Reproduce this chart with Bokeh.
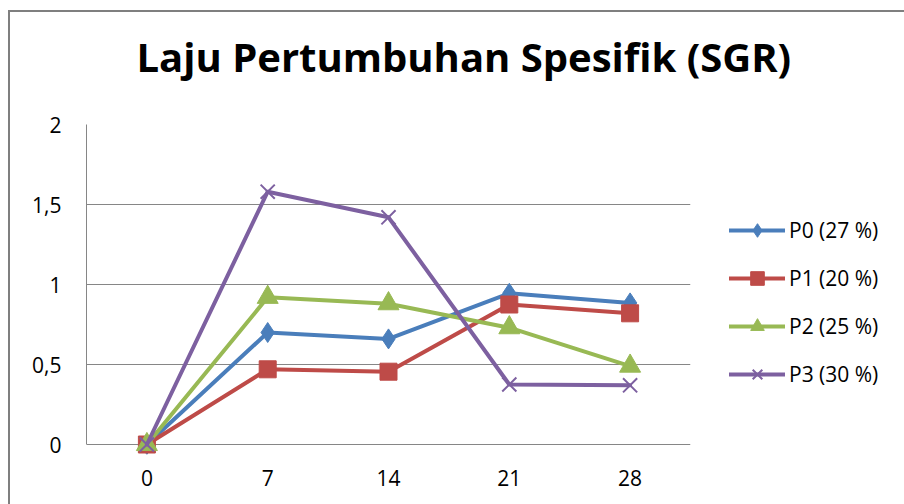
from bokeh.plotting import figure
from bokeh.models import (FactorRange, Range1d, FixedTicker, CustomJSTickFormatter,
                          Legend, LegendItem, Title)
from bokeh.embed import file_html
from bokeh.resources import INLINE

# ---- data ----
days = ["0", "7", "14", "21", "28"]
p0_vals = [0, 0.70, 0.66, 0.945, 0.885]
p1_vals = [0, 0.47, 0.455, 0.875, 0.82]
p2_vals = [0, 0.92, 0.88, 0.73, 0.49]
p3_vals = [0, 1.58, 1.42, 0.375, 0.37]
series_labels = ["P0 (27 %)", "P1 (20 %)", "P2 (25 %)", "P3 (30 %)"]
y_ticks = [0, 0.5, 1, 1.5, 2]
title_text = "Laju Pertumbuhan Spesifik (SGR)"

FONT = "Open Sans"
GRID = "#868686"

p = figure(frame_width=604, frame_height=330, output_backend="svg", toolbar_location=None,
           x_range=FactorRange(*days), y_range=Range1d(-0.0625, 2),
           min_border_left=76, min_border_right=0, min_border_top=112,
           min_border_bottom=50)
p.styles = {"border-top": "2px solid #7f7f7f", "border-left": "2px solid #7f7f7f",
            "margin-left": "8px", "margin-top": "10px"}
p.outline_line_color = None
p.background_fill_color = "white"
p.border_fill_color = "white"

# spacer between plot area and title, then the title itself
p.add_layout(Title(text=" ", text_font_size="1px", standoff=38), "above")
p.add_layout(Title(text=title_text, align="left", offset=50, standoff=0,
                   text_font=FONT, text_font_style="bold", text_font_size="40px",
                   text_color="black", vertical_align="bottom"), "above")

# axes
p.yaxis.ticker = FixedTicker(ticks=y_ticks)
p.yaxis.formatter = CustomJSTickFormatter(code="return tick.toString().replace('.', ',');")
p.yaxis.bounds = (0, 2)
p.yaxis.axis_line_color = GRID
p.yaxis.axis_line_width = 1
p.yaxis.major_tick_out = 0
p.yaxis.major_tick_in = 0
p.yaxis.minor_tick_out = 0
p.yaxis.minor_tick_in = 0
p.yaxis.major_label_standoff = 25
p.yaxis.major_label_text_font = FONT
p.yaxis.major_label_text_font_size = "21px"
p.yaxis.major_label_text_color = "black"

p.xaxis.axis_line_color = None
p.xaxis.major_tick_out = 0
p.xaxis.major_tick_in = 0
p.xaxis.major_label_standoff = 15
p.xaxis.major_label_text_font = FONT
p.xaxis.major_label_text_font_size = "21px"
p.xaxis.major_label_text_color = "black"

p.xgrid.grid_line_color = None
p.ygrid.grid_line_color = GRID
p.ygrid.grid_line_width = 1

colors = ["#4A7EBB", "#BE4B48", "#98B954", "#7D60A0"]
all_vals = [p0_vals, p1_vals, p2_vals, p3_vals]
items = []
for i, (vals, col, lab) in enumerate(zip(all_vals, colors, series_labels)):
    lr = p.line(days, vals, line_width=4, line_color=col, line_join="round", line_cap="round")
    if i == 0:
        sr = p.scatter(days, vals, marker="diamond", size=20, fill_color=col, line_color=col)
    elif i == 1:
        sr = p.scatter(days, vals, marker="square", size=17, fill_color=col, line_color=col)
    elif i == 2:
        sr = p.scatter(days, vals, marker="triangle", size=21, fill_color=col, line_color=col)
    else:
        sr = p.scatter(days, vals, marker="x", size=20, line_color=col, line_width=2)
    items.append(LegendItem(label=lab, renderers=[lr, sr]))

legend = Legend(items=items, location="center_left", padding=0, margin=39,
                glyph_width=56, glyph_height=34, label_height=34, spacing=14,
                label_standoff=4, border_line_color=None, background_fill_alpha=0,
                label_text_font=FONT, label_text_font_size="21px",
                label_text_color="black",
                title=" ", title_text_font=FONT, title_text_font_size="17px",
                title_standoff=3)
p.add_layout(legend, "right")

open("out.html", "w").write(file_html(p, INLINE))
